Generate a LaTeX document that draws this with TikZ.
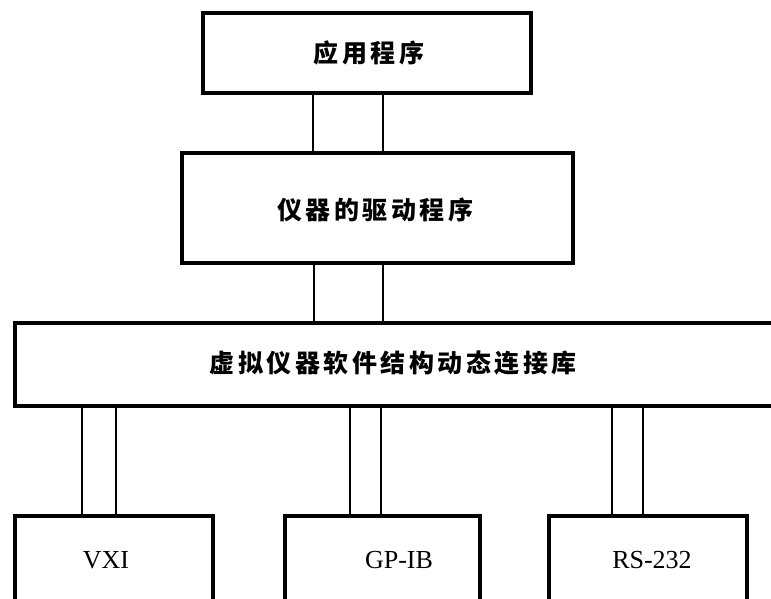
\documentclass[tikz,border=0pt]{standalone}
\usepackage{fontspec}
\setmainfont{Liberation Serif}
\newfontfamily\cjk[LetterSpace=14]{Noto Sans CJK SC}
\begin{document}
\begin{tikzpicture}[x=1pt,y=-1pt,
  blk/.style={draw=black, line width=3.2pt, inner sep=0pt, fill=white},
  cjklbl/.style={font=\cjk\bfseries\fontsize{25}{28}\selectfont, inner sep=0pt},
  latlbl/.style={font=\fontsize{26}{28}\selectfont, inner sep=0pt},
  wire/.style={draw=black, line width=2.5pt}]
\useasboundingbox (0,0) rectangle (771,599);
\fill[white] (0,0) rectangle (771,599);
\clip (0,0) rectangle (771,599);
% boxes
\node[blk, minimum width=328pt, minimum height=80pt] (app) at (367,53) {};
\node[blk, minimum width=391pt, minimum height=110pt] (drv) at (377.5,208) {};
\node[blk, minimum width=785pt, minimum height=83pt] (dll) at (407.5,364.5) {};
\node[blk, minimum width=198pt, minimum height=110pt] (vxi) at (114,571) {};
\node[blk, minimum width=195pt, minimum height=110pt] (gpib) at (382.5,571) {};
\node[blk, minimum width=198pt, minimum height=110pt] (rs) at (648,571) {};
% labels
\node[cjklbl] (tapp) at (369,53) {应用程序};
\node[cjklbl] (tdrv) at (375,210) {仪器的驱动程序};
\node[cjklbl] (tdll) at (393,362.5) {虚拟仪器软件结构动态连接库};
\node[latlbl] (tvxi) at (106,560) {VXI};
\node[latlbl] (tgpib) at (399,560) {GP-IB};
\node[latlbl] (trs) at (652,560) {RS-232};
% connector x positions
\coordinate (a1) at (313,0);
\coordinate (a2) at (383,0);
\coordinate (b1) at (314,0);
\coordinate (b2) at (383,0);
\coordinate (c1) at (82,0);
\coordinate (c2) at (116,0);
\coordinate (d1) at (350,0);
\coordinate (d2) at (381,0);
\coordinate (e1) at (612,0);
\coordinate (e2) at (643,0);
% connectors
\draw[wire] (app.south -| a1) -- (drv.north -| a1);
\draw[wire] (app.south -| a2) -- (drv.north -| a2);
\draw[wire] (drv.south -| b1) -- (dll.north -| b1);
\draw[wire] (drv.south -| b2) -- (dll.north -| b2);
\draw[wire] (dll.south -| c1) -- (vxi.north -| c1);
\draw[wire] (dll.south -| c2) -- (vxi.north -| c2);
\draw[wire] (dll.south -| d1) -- (gpib.north -| d1);
\draw[wire] (dll.south -| d2) -- (gpib.north -| d2);
\draw[wire] (dll.south -| e1) -- (rs.north -| e1);
\draw[wire] (dll.south -| e2) -- (rs.north -| e2);
\end{tikzpicture}
\end{document}
